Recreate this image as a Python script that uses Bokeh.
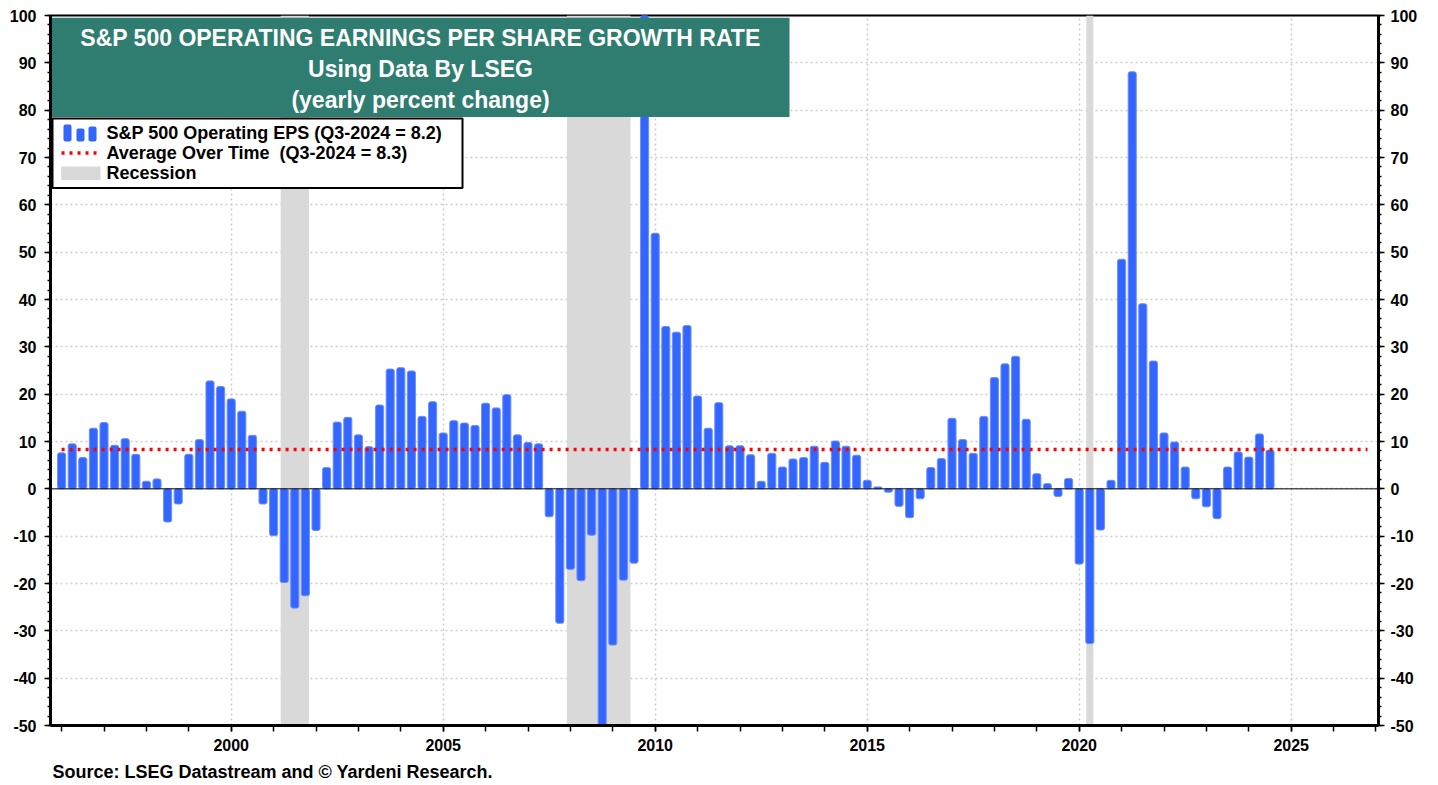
from bokeh.plotting import figure
from bokeh.models import BoxAnnotation, Label, Span, LinearAxis, FixedTicker, Title, Range1d
from bokeh.embed import file_html
from bokeh.resources import INLINE

# ---------------- data ----------------
eps_growth = [
    7.6, 9.5, 6.6, 12.8,       # 1996
    14.0, 9.2, 10.6, 7.3,      # 1997
    1.6, 2.1, -7.0, -3.2,      # 1998
    7.3, 10.4, 22.8, 21.6,     # 1999
    19.0, 16.4, 11.3, -3.2,    # 2000
    -9.9, -19.8, -25.2, -22.6, # 2001
    -8.8, 4.5, 14.1, 15.1,     # 2002
    11.4, 8.9, 17.7, 25.3,     # 2003
    25.6, 24.9, 15.3, 18.4,    # 2004
    11.8, 14.4, 13.9, 13.4,    # 2005
    18.1, 17.1, 19.9, 11.4,    # 2006
    9.8, 9.5, -5.9, -28.4,     # 2007
    -17.0, -19.4, -9.8, -60.0, # 2008
    -33.0, -19.3, -15.7, 150.0,# 2009
    54.0, 34.3, 33.1, 34.5,    # 2010
    19.6, 12.8, 18.2, 9.1,     # 2011
    9.1, 7.2, 1.6, 7.5,        # 2012
    4.6, 6.3, 6.6, 9.0,        # 2013
    5.6, 10.1, 9.0, 7.1,       # 2014
    1.8, 0.4, -0.7, -3.7,      # 2015
    -6.1, -2.1, 4.5, 6.4,      # 2016
    14.9, 10.4, 7.5, 15.3,     # 2017
    23.5, 26.4, 28.0, 14.7,    # 2018
    3.2, 1.1, -1.6, 2.2,       # 2019
    -15.9, -32.7, -8.7, 1.8,   # 2020
    48.5, 88.1, 39.1, 27.0,    # 2021
    11.8, 9.9, 4.6, -2.1,      # 2022
    -3.8, -6.3, 4.6, 7.8,      # 2023
    6.7, 11.6, 8.2,            # 2024
]
start_year = 1996.0
quarter_dates = [start_year + 0.25 * i for i in range(len(eps_growth))]

avg_value = 8.3
avg_end = 2026.8

recession_starts = [2001.167, 2007.917, 2020.167]
recession_ends = [2001.833, 2009.417, 2020.333]

y_ticks = list(range(-50, 101, 10))
y_minor = list(range(-50, 101, 2))
x_ticks = list(range(2000, 2026, 5))
x_minor = list(range(1996, 2028))

title_lines = ["S&P 500 OPERATING EARNINGS PER SHARE GROWTH RATE",
               "Using Data By LSEG",
               "(yearly percent change)"]
legend_labels = ["S&P 500 Operating EPS (Q3-2024 = 8.2)",
                 "Average Over Time\u00a0 (Q3-2024 = 8.3)",
                 "Recession"]
source_text = "Source: LSEG Datastream and \u00a9 Yardeni Research."

# ---------------- styles / layout ----------------
FONT = "Liberation Sans"
BLUE = "#3366ff"
GREEN = "#2e7d70"
GRAY = "#d9d9d9"
RED = "#ff0000"

X0, X1 = 1995.738, 2027.059
Y0, Y1 = -50, 100

def X(px):  # reference-pixel -> data x (layout helper for annotations)
    return X0 + (px - 50.0) * (X1 - X0) / 1328.0

def Y(py):
    return Y1 - (py - 15.0) * (Y1 - Y0) / 710.0

p = figure(frame_width=1328, frame_height=710,
           x_range=Range1d(X0, X1), y_range=Range1d(Y0, Y1),
           output_backend="svg", toolbar_location=None,
           min_border_top=15, min_border_left=50, min_border_right=52, min_border_bottom=0)

p.background_fill_color = "white"
p.border_fill_color = "white"
p.outline_line_color = "black"
p.outline_line_width = 2

# grids
p.xgrid.ticker = FixedTicker(ticks=x_ticks)
p.ygrid.ticker = FixedTicker(ticks=y_ticks)
for g in (p.xgrid, p.ygrid):
    g.grid_line_color = "#cccccc"
    g.grid_line_dash = "2 3"
    g.grid_line_width = 1.5

# axes
def style_axis(ax, standoff):
    ax.axis_line_color = "black"
    ax.axis_line_width = 3
    ax.major_tick_in = 0
    ax.major_tick_out = 6
    ax.minor_tick_in = 0
    ax.major_tick_line_width = 1.5
    ax.minor_tick_line_width = 1.5
    ax.major_label_text_font = FONT
    ax.major_label_text_font_style = "bold"
    ax.major_label_text_font_size = "16px"
    ax.major_label_text_color = "black"
    ax.major_label_standoff = standoff

yl = p.yaxis[0]
yl.ticker = FixedTicker(ticks=y_ticks, minor_ticks=y_minor)
yl.major_label_overrides = {t: str(t) for t in y_ticks}
style_axis(yl, 8)
yl.minor_tick_out = 3

yr = LinearAxis(ticker=FixedTicker(ticks=y_ticks, minor_ticks=y_minor))
yr.major_label_overrides = {t: str(t) for t in y_ticks}
style_axis(yr, 6)
yr.minor_tick_out = 3
p.add_layout(yr, "right")

xb = p.xaxis[0]
xb.ticker = FixedTicker(ticks=x_ticks, minor_ticks=x_minor)
style_axis(xb, 7)
xb.minor_tick_out = 6

# recessions
p.quad(left=recession_starts, right=recession_ends, bottom=Y0, top=Y1,
       fill_color=GRAY, line_color=None)

# bars
p.vbar(x=quarter_dates, top=eps_growth, bottom=0, width=0.19,
       fill_color=BLUE, line_color="#6b8dff", line_width=1, border_radius=2)

# zero line
p.add_layout(Span(location=0, dimension="width", line_color="black", line_width=1))

# average line
p.line(x=[quarter_dates[0], avg_end], y=[avg_value, avg_value],
       line_color=RED, line_width=3.5, line_dash="3 5")

# title box
p.add_layout(BoxAnnotation(left=X(51.5), right=X(789), top=Y(17.3), bottom=Y(116.5),
                           fill_color=GREEN, fill_alpha=1, line_color=None))
for line_text, py in zip(title_lines, [37, 68, 99]):
    p.add_layout(Label(x=X(420), y=Y(py), text=line_text, text_align="center",
                       text_baseline="middle", text_color="white", text_font=FONT,
                       text_font_style="bold", text_font_size="23px"))

# legend
p.add_layout(BoxAnnotation(left=X(52), right=X(462), top=Y(118), bottom=Y(187.5),
                           fill_color="white", fill_alpha=1, line_color="black",
                           line_alpha=1, line_width=2))
for (l, r, t) in [(63, 71, 124), (76, 84, 128), (88, 96, 126)]:
    p.add_layout(BoxAnnotation(left=X(l), right=X(r), top=Y(t), bottom=Y(141),
                               fill_color=BLUE, fill_alpha=1, line_color=None, border_radius=2))
p.line(x=[X(61), X(101)], y=[Y(152.5), Y(152.5)], line_color=RED, line_width=3.5,
       line_dash="3 5", level="overlay")
p.add_layout(BoxAnnotation(left=X(60.7), right=X(100), top=Y(166), bottom=Y(179.5),
                           fill_color=GRAY, fill_alpha=1, line_color=None))
for lab, py in zip(legend_labels, [132, 152.5, 172.5]):
    p.add_layout(Label(x=X(106), y=Y(py), text=lab, text_align="left",
                       text_baseline="middle", text_color="black", text_font=FONT,
                       text_font_style="bold", text_font_size="18px"))

# source
p.add_layout(Title(text=source_text, align="left", text_font=FONT, text_font_style="bold",
                   text_font_size="18px", text_color="black", offset=2, standoff=12), "below")

open("out.html", "w").write(file_html(p, INLINE))
